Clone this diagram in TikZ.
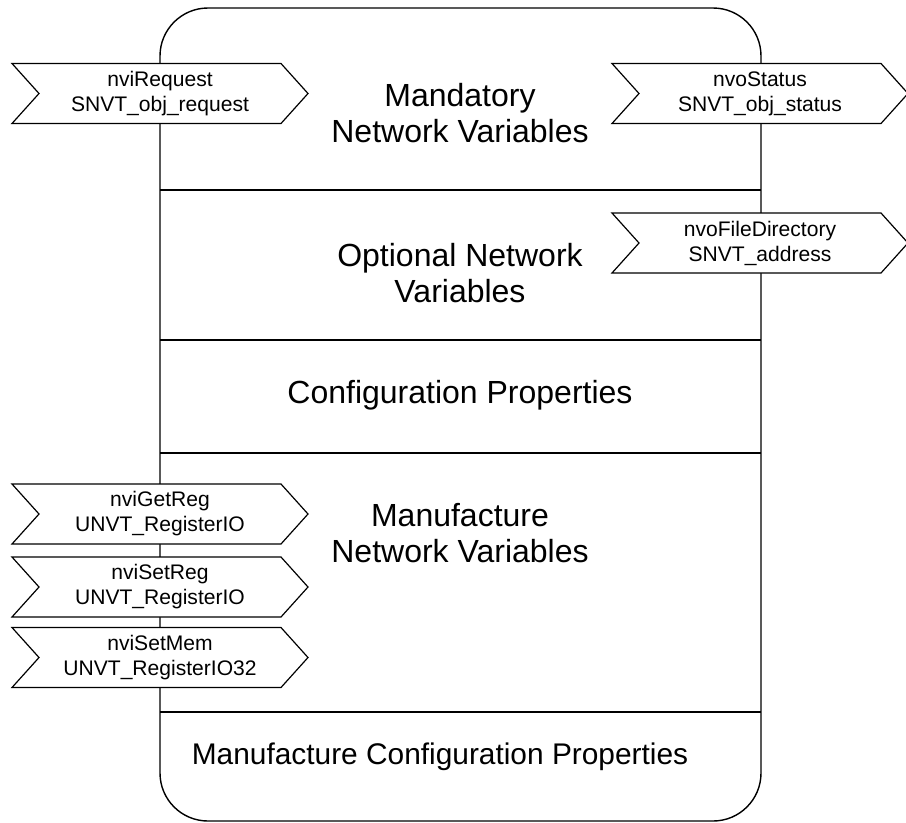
\documentclass[tikz,border=0pt]{standalone}
\usepackage{fontspec}
\setmainfont{Liberation Sans}
\usetikzlibrary{shapes.symbols}

\tikzset{
  port/.style={signal, signal from=west, signal to=east, signal pointer angle=96,
    draw, fill=white, line width=0.9pt, minimum width=222pt, minimum height=45pt,
    inner sep=0pt, align=center, font=\fontsize{15.8}{18.8}\selectfont},
  title/.style={align=center, font=\fontsize{24}{27}\selectfont}
}

\begin{document}
\begin{tikzpicture}[x=0.75pt, y=-0.75pt]
    \useasboundingbox (0,0) rectangle (906,822);
    % outer frame and the five sections
    \draw[line width=1.05pt, rounded corners=36pt] (160,8) rectangle (761,821);
    \foreach \y in {190,340,453,712}{
      \draw[line width=1.05pt] (160,\y) -- (761,\y);
    }
    % section titles
    \node[title] (mandatory) at (460,113) {Mandatory\\Network Variables};
    \node[title] (optional) at (460,273) {Optional Network\\Variables};
    \node[title] (config) at (460,395) {Configuration Properties};
    \node[title] (manufnv) at (460,533) {Manufacture\\Network Variables};
    \node[title, font=\fontsize{22.4}{26}\selectfont] (manufcp) at (440,757) {Manufacture Configuration Properties};
    % network variable ports
    \node[port] (request) at (160,93.5) {nviRequest\\SNVT\_obj\_request};
    \node[port] (status) at (760,93.5) {nvoStatus\\SNVT\_obj\_status};
    \node[port] (filedir) at (760,243) {nvoFileDirectory\\SNVT\_address};
    \node[port] (getreg) at (160,514) {nviGetReg\\UNVT\_RegisterIO};
    \node[port] (setreg) at (160,587) {nviSetReg\\UNVT\_RegisterIO};
    \node[port] (setmem) at (160,657.5) {nviSetMem\\UNVT\_RegisterIO32};
\end{tikzpicture}
\end{document}
